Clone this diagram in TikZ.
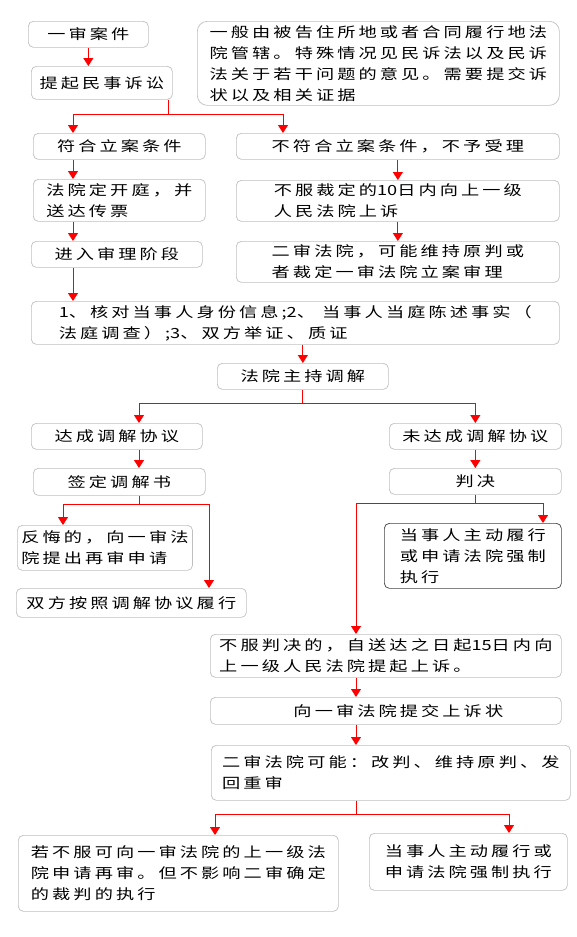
\documentclass[tikz,border=0pt]{standalone}
\usepackage{fontspec}
\setmainfont{Noto Sans CJK SC}[FakeStretch=1.3, LetterSpace=22]
\newfontfamily\shuzi{Noto Sans CJK SC}[FakeStretch=1.3]
\usetikzlibrary{arrows.meta}

\begin{document}
\begin{tikzpicture}[x=1pt,y=-1pt,
  stepbox/.style={draw=gray!50, line width=0.7pt, rounded corners=5pt,
    anchor=north west, align=left, inner xsep=4pt, inner ysep=2pt,
    font=\fontsize{14}{21}\selectfont},
  notebox/.style={stepbox, rounded corners=10pt},
  darkbox/.style={stepbox, draw=black!75},
  redline/.style={draw=red, line width=1pt},
  arr/.style={redline, -{Triangle[length=8pt,width=10pt]}}]

\useasboundingbox (0,0) rectangle (576,937);

\node[stepbox, minimum width=120pt, minimum height=26pt] (yishen) at (28,21) {一审案件};
\node[stepbox, minimum width=141pt, minimum height=33pt] (tiqi) at (31,66) {提起民事诉讼};
\node[notebox, minimum width=362pt, minimum height=84pt] (guanxia) at (197,21)
  {一般由被告住所地或者合同履行地法\\院管辖。特殊情况见民诉法以及民诉\\法关于若干问题的意见。需要提交诉\\状以及相关证据};

\node[stepbox, minimum width=172pt, minimum height=26pt] (fuhe) at (33,133) {符合立案条件};
\node[stepbox, minimum width=323pt, minimum height=26pt] (bufuhe) at (236,133) {不符合立案条件，不予受理};
\node[stepbox, minimum width=172pt, minimum height=42pt] (kaiting) at (33,179) {法院定开庭，并\\送达传票};
\node[stepbox, minimum width=323pt, minimum height=41pt] (caiding) at (236,180) {不服裁定的{\shuzi 10}日内向上一级\\人民法院上诉};
\node[stepbox, minimum width=171pt, minimum height=26pt] (jinru) at (31,241) {进入审理阶段};
\node[stepbox, minimum width=323pt, minimum height=41pt] (ershen) at (236,241) {二审法院，可能维持原判或\\者裁定一审法院立案审理};

\node[stepbox, minimum width=528pt, minimum height=43pt] (shenli) at (31,301)
  {{\shuzi 1}、核对当事人身份信息;{\shuzi 2}、\ 当事人当庭陈述事实（\\法庭调查）;{\shuzi 3}、双方举证、质证};
\node[stepbox, minimum width=171pt, minimum height=26pt] (tiaojie) at (217,363) {法院主持调解};

\node[stepbox, minimum width=171pt, minimum height=26pt] (dacheng) at (31,423) {达成调解协议};
\node[stepbox, minimum width=172pt, minimum height=26pt] (weida) at (389,423) {未达成调解协议};
\node[stepbox, minimum width=172pt, minimum height=27pt] (qianding) at (33,468) {签定调解书};
\node[stepbox, minimum width=172pt, minimum height=26pt] (panjue) at (389,468) {判决};
\node[stepbox, minimum width=169pt, minimum height=45pt] (fanhui) at (17,525) {反悔的，向一审法\\院提出再审申请};
\node[stepbox, minimum width=230pt, minimum height=29pt] (lvxing) at (16,588) {双方按照调解协议履行};
\node[darkbox, minimum width=177pt, minimum height=65pt] (zhixing) at (384,523) {当事人主动履行\\或申请法院强制\\执行};

\node[stepbox, minimum width=351pt, minimum height=43pt] (shangsu) at (210,634)
  {不服判决的，自送达之日起{\shuzi 15}日内向\\上一级人民法院提起上诉。};
\node[stepbox, minimum width=351pt, minimum height=27pt] (suzhuang) at (210,697) {\hspace*{25pt}向一审法院提交上诉状};
\node[stepbox, minimum width=359pt, minimum height=55pt] (kenneng) at (211,745) {二审法院可能：改判、维持原判、发\\回重审};
\node[stepbox, minimum width=320pt, minimum height=76pt] (zaishen) at (18,835)
  {若不服可向一审法院的上一级法\\院申请再审。但不影响二审确定\\的裁判的执行};
\node[stepbox, minimum width=198pt, minimum height=57pt] (qiangzhi) at (369,833) {当事人主动履行或\\申请法院强制执行};

\coordinate (laneA) at (73,0);
\coordinate (laneB) at (283,0);
\coordinate (laneC) at (139,0);
\coordinate (laneD) at (63,0);
\coordinate (laneE) at (209,0);
\coordinate (laneF) at (543,0);
\coordinate (laneG) at (356,0);
\coordinate (laneH) at (215,0);
\coordinate (laneI) at (509,0);
\coordinate (fork1) at (168,114);

\draw[arr] (yishen.south) -- (yishen.south |- tiqi.north);
\draw[redline] (tiqi.south -| fork1) -- (fork1);
\draw[arr] (fork1) -| (fuhe.north -| laneA);
\draw[arr] (fork1) -| (bufuhe.north -| laneB);
\draw[arr] (fuhe.south -| laneA) -- (kaiting.north -| laneA);
\draw[arr] (kaiting.south -| laneA) -- (jinru.north -| laneA);
\draw[arr] (jinru.south -| laneA) -- (shenli.north -| laneA);
\draw[arr] (bufuhe.south) -- (caiding.north);
\draw[arr] (caiding.south) -- (ershen.north);

\draw[arr] (shenli.south -| tiaojie.north) -- (tiaojie.north);
\draw[redline] (tiaojie.south) -- ++(0,14) coordinate (fork2);
\draw[arr] (fork2) -| (dacheng.north -| laneC);
\draw[arr] (fork2) -| (weida.north);
\draw[arr] (dacheng.south -| laneC) -- (qianding.north -| laneC);
\draw[arr] (weida.south) -- (panjue.north);

\draw[redline] (qianding.south -| laneC) -- ++(0,9) coordinate (fork3);
\draw[arr] (fork3) -| (fanhui.north -| laneD);
\draw[arr] (fork3) -| (lvxing.north -| laneE);
\draw[redline] (panjue.south) -- ++(0,9) coordinate (fork4);
\draw[arr] (fork4) -| (zhixing.north -| laneF);
\draw[arr] (fork4) -| (shangsu.north -| laneG);

\draw[arr] (shangsu.south -| laneG) -- (suzhuang.north -| laneG);
\draw[arr] (suzhuang.south -| laneG) -- (kenneng.north -| laneG);
\draw[redline] (kenneng.south -| laneG) -- ++(0,14) coordinate (fork5);
\draw[arr] (fork5) -| (zaishen.north -| laneH);
\draw[arr] (fork5) -| (qiangzhi.north -| laneI);

\end{tikzpicture}
\end{document}
